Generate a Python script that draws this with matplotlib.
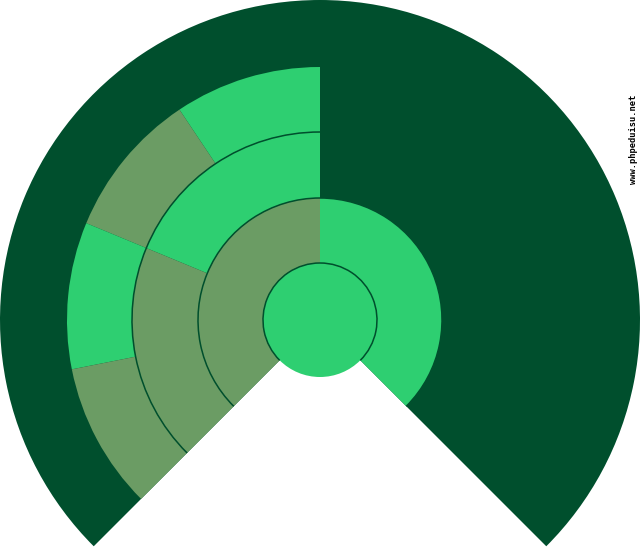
import matplotlib
matplotlib.use('Agg')
import matplotlib.pyplot as plt
from matplotlib.patches import Wedge, Circle, Arc

# hierarchy (leaf counts), drawn counterclockwise from the bottom-right
level1 = [4, 4]           # root children
level2 = [2, 2]           # children of level1[1]
level3 = [1, 1, 1, 1]     # children of level2
total = sum(level1)

radii = [57, 122, 188, 253, 320]
start_angle = -45
span = 270

light = '#2ecf71'
olive = '#6b9c64'
dark = '#004f2d'
ring_colors = [light, olive]

W, H = 640, 550
cx, cy = 320, H - 320

fig = plt.figure(figsize=(6.4, 5.5), dpi=100)
ax = fig.add_axes([0, 0, 1, 1])
ax.set_xlim(0, W)
ax.set_ylim(0, H)
ax.axis('off')

# background sector
ax.add_patch(Wedge((cx, cy), radii[4], start_angle, start_angle + span,
                   facecolor=dark, edgecolor='none'))


def draw_ring(values, r_in, r_out, a0):
    a = a0
    for i, v in enumerate(values):
        d = v / total * span
        ax.add_patch(Wedge((cx, cy), r_out, a, a + d, width=r_out - r_in,
                           facecolor=ring_colors[i % 2], edgecolor='none'))
        a += d


draw_ring(level1, radii[0], radii[1], start_angle)
a_l2 = start_angle + level1[0] / total * span
draw_ring(level2, radii[1], radii[2], a_l2)
draw_ring(level3, radii[2], radii[3], a_l2)

# centre node
ax.add_patch(Circle((cx, cy), radii[0], facecolor=light, edgecolor='none'))

# node borders
ax.add_patch(Arc((cx, cy), 2 * radii[0], 2 * radii[0], theta1=start_angle,
                 theta2=start_angle + span, color=dark, lw=1.1))
ax.add_patch(Arc((cx, cy), 2 * radii[1], 2 * radii[1], theta1=start_angle,
                 theta2=start_angle + span, color=dark, lw=1.1))
ax.add_patch(Arc((cx, cy), 2 * radii[2], 2 * radii[2], theta1=a_l2,
                 theta2=start_angle + span, color=dark, lw=1.1))

ax.text(634, H - 139, 'www.phpeduisu.net', rotation=90, ha='center', va='center',
        fontsize=6.3, family='DejaVu Sans Mono', fontweight='bold', color='black')

fig.savefig('out.png', dpi=100)
